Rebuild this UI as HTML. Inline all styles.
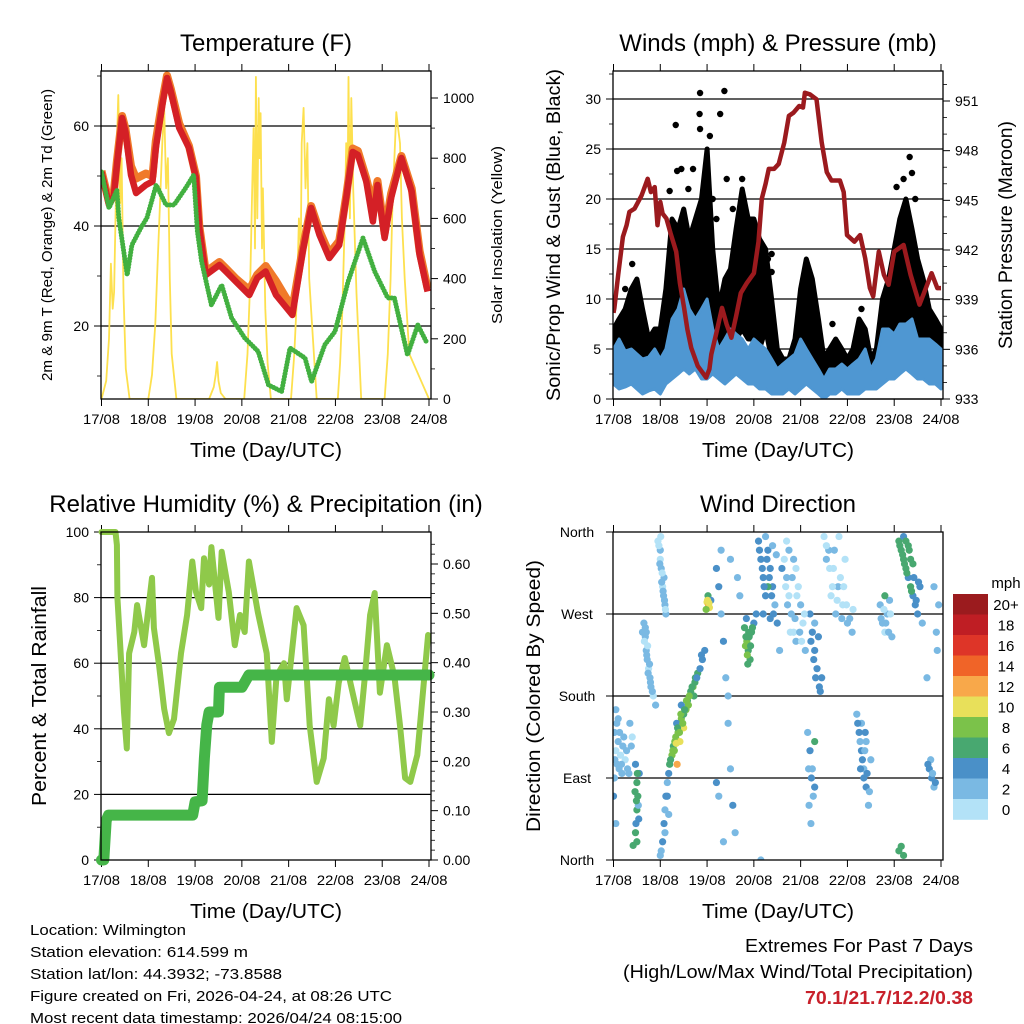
<!DOCTYPE html>
<html><head><meta charset="utf-8"><style>
html,body{margin:0;padding:0;background:#fff}
svg{display:block;font-family:"Liberation Sans",Arial,sans-serif}
</style></head><body>
<svg id="fig" width="1024" height="1024" viewBox="0 0 1024 1024" xmlns="http://www.w3.org/2000/svg">
<rect width="1024" height="1024" fill="#fff"/>
<g id="p1"></g>
<g id="p2"></g>
<g id="p3"></g>
<g id="p4"></g>
<g font-size="15" fill="#000">
<text x="30" y="935" textLength="156" lengthAdjust="spacingAndGlyphs">Location: Wilmington</text>
<text x="30" y="957" textLength="218" lengthAdjust="spacingAndGlyphs">Station elevation: 614.599 m</text>
<text x="30" y="979" textLength="252" lengthAdjust="spacingAndGlyphs">Station lat/lon: 44.3932; -73.8588</text>
<text x="30" y="1001" textLength="362" lengthAdjust="spacingAndGlyphs">Figure created on Fri, 2026-04-24, at 08:26 UTC</text>
<text x="30" y="1023" textLength="372" lengthAdjust="spacingAndGlyphs">Most recent data timestamp: 2026/04/24 08:15:00</text>
</g>
<g font-size="18" text-anchor="end">
<text x="973" y="952" textLength="228" lengthAdjust="spacingAndGlyphs">Extremes For Past 7 Days</text>
<text x="973" y="978" textLength="350" lengthAdjust="spacingAndGlyphs">(High/Low/Max Wind/Total Precipitation)</text>
<text x="973" y="1004" font-weight="bold" fill="#c8202a" textLength="168" lengthAdjust="spacingAndGlyphs">70.1/21.7/12.2/0.38</text>
</g>
</svg>
<script>
// ---------- DATA ----------
const dayLabels = ["17/08","18/08","19/08","20/08","21/08","22/08","23/08","24/08"];
// Temperature panel
const temp2mT = [0,0.16,0.26,0.33,0.44,0.51,0.63,0.74,0.95,1.09,1.16,1.3,1.4,1.48,1.66,1.87,2.02,2.09,2.23,2.52,2.66,2.87,3.16,3.33,3.51,3.73,4.08,4.3,4.48,4.66,4.87,5.08,5.23,5.37,5.48,5.66,5.8,5.9,6.05,6.19,6.41,6.63,6.8,6.97];
const temp2mV = [50.8,44.2,45.9,52.2,61.6,58.9,50.2,46.6,48.2,48.9,55.6,64.2,69.6,67,59.6,55.6,49.6,39.6,30.2,32.2,30.9,28.9,26.2,29.6,30.9,26.2,22.2,34.9,43.6,38.2,33.6,36.2,45.6,54.8,54.2,48.9,40.9,48.2,37.6,45.6,53.6,46.9,34.2,26.9];
const temp9mV = [51,44.8,46.5,53,62,59.5,52,49.5,50.5,50,57,65,70.1,67.5,60.5,56,50,40,30.8,32.8,31.5,29.5,27.2,30.3,32,29,23.5,35.5,44,39,34.5,37,46,55.5,55,49.5,44,49,38.5,46.5,54,47.5,35,27.5];
const dewT = [0,0.16,0.33,0.37,0.55,0.65,0.84,0.97,1.17,1.38,1.55,1.8,1.97,2.05,2.14,2.35,2.57,2.78,3.06,3.35,3.57,3.85,4.03,4.35,4.49,4.77,4.99,5.27,5.59,5.84,6.12,6.26,6.54,6.76,6.94];
const dewV = [50.8,43.6,47.2,41.6,30.2,36.2,39.6,41.6,48.2,44.2,44.2,47.6,50.2,38.9,32.9,24.2,28.2,21.6,17.6,14.9,8.2,6.9,15.6,13.6,8.9,16.2,18.9,28.9,37.6,30.9,25.6,25.6,14.2,20.2,16.9];
const solarT = [0,0.1,0.16,0.2,0.24,0.27,0.3,0.33,0.36,0.4,0.43,0.47,0.52,0.6,1.0,1.08,1.15,1.2,1.25,1.3,1.34,1.38,1.42,1.46,1.5,1.6,2.3,2.4,2.44,2.47,2.5,2.55,2.65,3.05,3.12,3.18,3.22,3.25,3.28,3.3,3.33,3.36,3.38,3.4,3.43,3.45,3.5,3.55,3.62,4.05,4.12,4.18,4.22,4.26,4.28,4.32,4.36,4.4,4.44,4.5,4.6,5.05,5.1,5.15,5.2,5.23,5.26,5.28,5.31,5.34,5.38,5.45,5.55,6.05,6.12,6.18,6.22,6.26,6.3,6.34,6.38,6.42,6.48,6.58,7];
const solarV = [0,60,200,450,300,355,600,850,1010,650,800,350,100,0,0,80,250,450,650,850,967,700,800,400,150,0,0,40,80,123,60,20,0,0,150,400,700,900,500,1070,600,1000,800,950,500,700,300,120,0,0,150,350,600,500,850,967,700,850,400,250,0,0,120,300,600,850,700,1070,600,1000,700,350,0,0,150,400,650,800,953,900,850,600,400,150,0];
// Winds panel
const windT = [0,0.12,0.25,0.38,0.5,0.62,0.75,0.88,1.0,1.12,1.25,1.38,1.5,1.62,1.75,1.88,2.0,2.12,2.25,2.38,2.5,2.62,2.75,2.88,3.0,3.12,3.25,3.38,3.5,3.62,3.75,3.88,4.0,4.12,4.25,4.38,4.5,4.62,4.75,4.88,5.0,5.12,5.25,5.38,5.5,5.62,5.75,5.88,6.0,6.12,6.25,6.38,6.5,6.62,6.75,6.88,7.0];
const gustLow = [2,3,2,3,3,2,2,3,2,3,4,5,6,4,5,6,8,5,4,3,5,6,7,6,6,5,7,4,2,3,2,2,3,4,4,3,2,2,2,3,2,3,3,2,2,3,3,5,5,6,8,7,6,4,3,3,2];
const gustHigh = [7,8,9,11,12,9,6,7,7,11,18,17,19,16,18,20,25,15,9,12,13,17,21,18,18,16,15,10,5,4,4,6,11,14,12,8,4,5,6,5,4,5,8,7,4,5,10,12,15,18,20,17,14,12,9,8,7];
const sonicLow = [1.5,1,1.2,1.5,1,0.5,0.8,1,0.5,1.5,2,2.5,3,2.5,3,2,2,2.5,2,1.5,2,2.5,2,1.5,1.5,1,1,0.5,0.5,0.5,1,0.5,1,1.5,1,0.5,0,0.5,0.5,1,0.5,0.5,0.5,1,1,1,1.5,2,2,2.5,3,2.5,2,2,1.5,1.5,1];
const sonicHigh = [5,6,4.8,5,4.5,4,4.2,5,4,5,8,9,11,9,8,9,10,7,5,6,7,6.5,6,5,6,5.5,5,4,3,3.5,4,4.5,6,5,4,3,2,3,3,3.5,3,3.5,4,5,3,4,7,7,6.5,7.5,7.5,8,6,6,6,5.5,5];
const gustOutT = [0.4,1.2,1.33,1.36,1.84,1.85,1.85,2.06,2.12,2.28,2.37,2.42,2.6,3.38,3.38,4.68,6.05,6.33,6.38,1.6,1.7,2.9,3.1,1.45,1.95,2.2,2.55,2.75,6.2,6.45,0.25,3.3,5.3];
const gustOutV = [13.5,20.8,27.4,22.8,28.5,30.6,27,26.3,20,28.5,30.8,22,15.5,12.7,14.5,7.5,21.2,24.2,22.6,21,23,17,16,23,22,18,19,22,22,20,11,14,9];
const presT = [0,0.02,0.1,0.2,0.28,0.34,0.45,0.6,0.73,0.8,0.88,0.94,1.0,1.05,1.13,1.22,1.34,1.42,1.51,1.58,1.66,1.8,1.98,2.05,2.09,2.2,2.32,2.42,2.52,2.62,2.72,2.85,3.0,3.1,3.17,3.25,3.32,3.43,3.53,3.65,3.75,3.85,3.97,4.05,4.09,4.2,4.34,4.45,4.56,4.66,4.84,4.92,4.99,5.15,5.27,5.38,5.48,5.55,5.67,5.78,5.88,6.0,6.2,6.35,6.54,6.65,6.8,6.92,7.0];
const presV = [938.2,938.5,940.5,942.8,943.5,944.3,944.5,945.3,946.3,945.5,945.8,943.5,944.9,944.2,943.9,943,941.9,940,938.5,937.2,936.1,935,934.3,934.8,935.7,937,938.5,937.5,936.7,938,939.4,940,940.6,942.5,945.1,946,946.9,946.9,947.2,948.5,950.1,950.3,950.7,950.6,951.5,951.4,951.1,948.5,946.7,946.2,946.2,945.5,942.9,942.5,942.9,941.5,939.7,939.2,941.9,940.5,939.9,941.9,942.3,940.5,938.7,939.5,940.6,939.7,939.7];
// RH panel
const rhT = [0,0.3,0.33,0.34,0.4,0.48,0.54,0.59,0.7,0.76,0.91,0.98,1.08,1.12,1.23,1.34,1.44,1.55,1.7,1.83,1.94,2.02,2.13,2.19,2.3,2.35,2.5,2.57,2.72,2.85,2.96,3.06,3.15,3.34,3.53,3.64,3.74,3.9,3.96,4.17,4.32,4.45,4.6,4.75,4.86,4.96,5.07,5.2,5.4,5.53,5.63,5.74,5.84,5.95,6.1,6.26,6.38,6.49,6.6,6.75,6.98];
const rhV = [100,100,96,80,65.5,45,34,63,69.5,77.7,65.5,73.8,86,70.7,59.5,46,38.7,43,63,74.7,91,81.7,76.8,92,84,95.4,73.8,94,81.7,65.5,74.7,69.5,91,75.6,63,36,56,60,49,76.8,71.6,41,23.8,31,49,41,54,61.6,49,41,56,74.7,81.4,51,65.5,56,41,25,23.8,32,68.6];
const rainT = [0,0.05,0.1,0.15,1.95,2.0,2.15,2.2,2.25,2.3,2.5,2.52,3.0,3.15,7.0];
const rainV = [0,0,0.08,0.091,0.091,0.118,0.12,0.207,0.274,0.30,0.30,0.35,0.35,0.375,0.375];
// Wind direction panel
const dirT = [0.02,0.05,0.08,0.1,0.12,0.15,0.18,0.2,0.25,0.3,0.35,0.4,0.05,0.1,0.02,
0.47,0.5,0.52,0.5,0.48,0.55,0.53,0.5,0.42,
0.65,0.68,0.7,0.72,0.75,0.78,0.8,0.68,0.73,0.77,0.85,0.9,
0.95,1.0,1.02,1.05,1.07,1.1,1.0,1.08,1.12,1.03,
1.0,1.05,1.08,1.1,1.12,1.15,1.18,1.02,1.1,
1.2,1.25,1.28,1.3,1.33,1.36,1.38,1.4,1.42,1.45,1.5,1.5,1.55,1.58,1.6,1.65,1.7,1.72,1.75,1.8,1.85,1.9,1.95,1.35,1.45,
2.0,2.03,2.05,2.02,2.08,1.98,
2.2,2.25,2.3,2.35,2.4,2.45,2.5,2.55,2.6,2.3,2.5,2.65,2.7,2.45,2.2,2.25,2.35,
2.8,2.85,2.88,2.9,2.92,2.95,3.0,2.87,2.82,3.05,
3.1,3.15,3.2,3.25,3.3,3.35,3.4,3.45,3.5,3.55,3.2,3.3,3.4,3.6,3.15,
3.65,3.7,3.75,3.8,3.85,3.9,3.95,4.0,4.05,4.1,3.75,3.9,
4.2,4.25,4.3,4.35,4.4,4.3,4.45,4.15,4.2,4.25,4.3,4.18,4.22,4.3,
4.5,4.6,4.7,4.8,4.9,5.0,4.65,4.75,4.85,5.1,4.55,4.95,
5.2,5.25,5.3,5.35,5.4,5.45,5.3,5.4,5.5,5.35,
5.7,5.75,5.8,5.85,5.9,5.95,5.8,
6.1,6.15,6.2,6.25,6.3,6.35,6.4,6.45,6.5,6.2,6.3,6.4,6.55,6.6,6.1,6.15,6.2,
6.75,6.8,6.85,6.78,6.9,6.95,6.85,6.7];
const dirDeg = [140,120,105,130,100,115,95,125,110,100,150,135,165,155,90,
105,85,70,55,40,95,60,20,16,
260,245,230,220,210,200,190,255,235,215,180,170,
350,340,320,300,290,280,330,310,270,305,
5,20,40,55,70,85,95,10,30,
105,115,125,120,135,105,140,150,130,155,160,145,165,175,170,185,190,180,200,205,210,220,230,150,170,
283,280,277,290,285,275,
320,300,270,240,200,150,100,60,30,340,330,310,290,180,85,70,20,
255,240,230,245,220,250,260,215,235,270,
350,330,310,290,340,320,300,280,260,230,270,300,345,320,0,
330,310,290,270,250,240,300,280,260,230,340,320,
270,250,230,210,190,260,200,140,120,100,80,60,40,130,
355,340,320,300,280,260,290,270,310,250,330,330,
160,140,120,100,80,60,150,130,110,90,
280,260,250,270,285,245,290,
350,340,330,320,310,300,290,280,270,355,345,325,300,260,10,15,5,
100,90,80,110,250,280,300,200];
const dirSpd = [2,1,2,2,3,1,2,2,1,3,2,1,3,2,3,
5,7,6,7,5,4,3,7,6,
2,2,2,2,1,2,2,2,1,2,1,2,
1,2,2,1,2,2,1,2,2,2,
3,4,4,3,4,3,4,2,3,
6,8,7,9,8,12,9,7,10,8,7,10,8,7,9,7,8,6,7,6,5,4,5,5,4,
11,12,10,6,5,9,
5,4,3,4,3,2,3,4,3,2,2,3,2,3,4,3,2,
7,8,7,6,7,6,5,6,8,4,
4,5,4,5,4,5,4,3,4,3,4,6,3,4,3,
1,2,1,2,1,2,1,2,1,2,2,1,
4,5,4,4,5,3,4,3,4,3,4,3,2,6,
1,2,1,2,1,2,1,2,1,2,2,1,
3,4,4,3,4,3,2,3,2,5,
2,2,1,2,2,3,6,
7,6,7,6,5,6,4,5,4,5,6,7,4,3,6,6,7,
4,4,3,2,2,3,2,2];
const dirExtraT = [0.03,0.07,0.13,0.17,0.22,0.28,0.33,0.38,0.0,0.05,
0.46,0.51,0.49,0.54,0.47,
0.62,0.66,0.71,0.74,0.79,0.83,0.7,
0.97,0.99,1.04,1.06,1.09,1.11,1.01,
1.22,1.27,1.31,1.34,1.37,1.41,1.44,1.48,1.52,1.56,1.62,1.68,1.74,1.78,1.88,1.15,1.18,
2.01,2.04,
2.83,2.86,2.89,2.93,2.97,2.84,
3.12,3.18,3.22,3.28,3.33,3.38,3.42,3.48,3.25,3.35,
3.68,3.72,3.78,3.82,3.88,3.92,3.98,4.02,4.08,3.7,3.85,
4.22,4.28,4.32,4.38,4.42,4.17,4.23,4.27,
4.55,4.62,4.68,4.72,4.78,4.82,4.88,4.92,4.98,5.05,5.12,
5.22,5.27,5.32,5.37,5.42,5.47,5.28,5.38,
5.72,5.78,5.82,5.88,5.92,
6.12,6.18,6.22,6.27,6.32,6.37,6.42,6.47,6.52,6.25,6.35,
6.72,6.82,6.88,6.92];
const dirExtraDeg = [110,150,140,105,135,120,95,125,70,40,
75,95,65,45,30,
250,240,225,205,195,185,250,
345,325,315,295,285,275,355,
110,120,130,128,145,140,160,150,165,175,180,190,195,200,225,70,50,
285,282,
245,225,250,235,255,265,
340,320,300,330,310,290,270,335,355,265,
300,280,250,310,265,290,250,240,270,350,330,
240,220,200,245,185,100,90,70,
345,320,300,340,285,355,265,300,280,265,275,
150,130,110,120,95,75,100,140,
265,275,260,250,270,
345,335,325,315,340,295,310,285,305,350,330,
105,95,85,230];
const dirExtraSpd = [3,2,2,3,2,2,2,3,4,2,
6,6,7,4,6,
2,1,2,2,2,2,2,
1,2,1,2,2,1,1,
7,9,8,10,7,8,9,8,7,9,8,7,6,5,4,4,3,
10,11,
7,8,7,6,7,5,
4,4,5,4,4,5,4,3,3,4,
1,2,1,2,2,1,2,1,1,1,2,
4,4,5,4,4,3,4,3,
1,1,1,2,1,1,2,1,1,2,1,
4,3,4,3,4,3,5,4,
2,1,2,2,1,
7,6,7,6,7,6,5,4,4,6,6,
4,3,4,2];
const speedColors = ["#b3e2f7","#7ab9e3","#4a90c8","#48a870","#7bc24a","#e8e05a","#f8a84a","#f06428","#de3528","#bf1e24","#9b1b1e"];
const speedLabels = ["0","2","4","6","8","10","12","14","16","18","20+"];

// ---------- HELPERS ----------
const NS="http://www.w3.org/2000/svg";
function mk(parent,tag,attrs,text){const e=document.createElementNS(NS,tag);for(const k in attrs)e.setAttribute(k,attrs[k]);if(text!==undefined)e.textContent=text;parent.appendChild(e);return e;}
function lin(d0,d1,r0,r1){return v=>r0+(v-d0)*(r1-r0)/(d1-d0);}
function pts(T,V,sx,sy){return T.map((t,i)=>sx(t).toFixed(1)+","+sy(V[i]).toFixed(1)).join(" ");}

function frame(g,L,R,T,B,titleText,titleX){
  const xs=lin(0,7,L+0.5,R-2);
  for(let i=0;i<=7;i++){
    const x=xs(i);
    const tk=mk(g,"line",{x1:x,x2:x,y1:B,y2:B+7,stroke:"#000","stroke-width":1});
    
    
    const tt=mk(g,"line",{x1:x,x2:x,y1:T,y2:T-7,stroke:"#000","stroke-width":1});
    
    
    const lb=mk(g,"text",{x:x,y:B+25,"font-size":14,"text-anchor":"middle",textLength:37,lengthAdjust:"spacingAndGlyphs"},dayLabels[i]);
    
    
  }
  const xt=mk(g,"text",{x:(L+R)/2,y:B+58,"font-size":20,"text-anchor":"middle",textLength:152,lengthAdjust:"spacingAndGlyphs"},"Time (Day/UTC)");
  
  
  const tt=mk(g,"text",{x:titleX,y:T-20,"font-size":24,"text-anchor":"middle"},titleText);
  
  
  return xs;
}
function box(g,L,R,T,B){
  const b=mk(g,"rect",{x:L,y:T,width:R-L,height:B-T,fill:"none",stroke:"#000","stroke-width":1.3});
  
  
}
function yTicks(g,vals,sy,x,side,labels,grid,L,R,fs){
  vals.forEach((v,i)=>{
    const y=sy(v);
    const tk=mk(g,"line",{x1:x,x2:x+(side<0?-7:7),y1:y,y2:y,stroke:"#000","stroke-width":1});
    
    
    if(grid){
      const gl=mk(g,"line",{x1:L,x2:R,y1:y,y2:y,stroke:"#000","stroke-width":1.2});
      
      
    }
    const t=mk(g,"text",{x:x+(side<0?-12:12),y:y+5,"font-size":fs||14,"text-anchor":side<0?"end":"start"},labels[i]);
    
    
  });
}
function minorTicks(g,vals,sy,x,side){
  vals.forEach(v=>{const y=sy(v);
    const m=mk(g,"line",{x1:x,x2:x+(side<0?-4:4),y1:y,y2:y,stroke:"#000","stroke-width":0.8});
    
    
  });
}
function vlabel(g,x,y,text,fs,len,name){
  const t=mk(g,"text",{x:0,y:0,"font-size":fs,"text-anchor":"middle",transform:`translate(${x},${y}) rotate(-90)`,textLength:len,lengthAdjust:"spacingAndGlyphs"},text);
  
  
}

// ---------- PANEL 1: TEMPERATURE ----------
(function(){
  const g=document.getElementById("p1");
  const L=101,R=431,T=71,B=399;
  const xs=frame(g,L,R,T,B,"Temperature (F)",266);
  const sy=lin(20,60,326,126);
  const sr=lin(0,1000,399,98);
  yTicks(g,[20,40,60],sy,L,-1,["20","40","60"],true,L,R);
  minorTicks(g,[10,30,50,70],sy,L,-1);
  yTicks(g,[0,200,400,600,800,1000],sr,R,1,["0","200","400","600","800","1000"],false);
  minorTicks(g,[100,300,500,700,900],sr,R,1);
  const cp=mk(g,"clipPath",{id:"c1"});mk(cp,"rect",{x:L,y:T,width:R-L,height:B-T});
  const s=mk(g,"polyline",{points:pts(solarT,solarV,xs,sr),fill:"none",stroke:"#fde04e","stroke-width":1.8,"stroke-linejoin":"round","clip-path":"url(#c1)"});
  
  
  const o=mk(g,"polyline",{points:pts(temp2mT,temp9mV,xs,sy),fill:"none",stroke:"#f07a2a","stroke-width":8,"stroke-linejoin":"round","clip-path":"url(#c1)"});
  
  
  const r=mk(g,"polyline",{points:pts(temp2mT,temp2mV,xs,sy),fill:"none",stroke:"#d42026","stroke-width":6.5,"stroke-linejoin":"round","clip-path":"url(#c1)"});
  
  
  const d=mk(g,"polyline",{points:pts(dewT,dewV,xs,sy),fill:"none",stroke:"#42b040","stroke-width":5,"stroke-linecap":"round","stroke-dasharray":"0 3","clip-path":"url(#c1)"});
  
  
  box(g,L,R,T,B);
  vlabel(g,52,235,"2m & 9m T (Red, Orange) & 2m Td (Green)",15,292,"y-axis-title-left");
  vlabel(g,502,235,"Solar Insolation (Yellow)",15,178,"y-axis-title-right");
})();

// ---------- PANEL 2: WINDS ----------
(function(){
  const g=document.getElementById("p2");
  const L=613,R=943,T=71,B=399;
  const xs=frame(g,L,R,T,B,"Winds (mph) & Pressure (mb)",778);
  const sy=lin(0,30,399,99);
  const sp=lin(933,951,399,101);
  yTicks(g,[0,5,10,15,20,25,30],sy,L,-1,["0","5","10","15","20","25","30"],true,L,R);
  minorTicks(g,[2.5,7.5,12.5,17.5,22.5,27.5,32.5],sy,L,-1);
  yTicks(g,[933,936,939,942,945,948,951],sp,R,1,["933","936","939","942","945","948","951"],false);
  minorTicks(g,[934,935,937,938,940,941,943,944,946,947,949,950,952],sp,R,1);
  const cp=mk(g,"clipPath",{id:"c2"});mk(cp,"rect",{x:L,y:T,width:R-L,height:B-T});
  const up=windT.map((t,i)=>xs(t).toFixed(1)+","+sy(gustHigh[i]).toFixed(1));
  const dn=windT.map((t,i)=>xs(t).toFixed(1)+","+sy(gustLow[i]).toFixed(1)).reverse();
  const gp=mk(g,"polygon",{points:up.concat(dn).join(" "),fill:"#000",stroke:"#000","stroke-width":5,"stroke-linejoin":"round","clip-path":"url(#c2)"});
  
  
  gustOutT.forEach((t,i)=>{
    const c=mk(g,"circle",{cx:xs(t),cy:sy(gustOutV[i]),r:3.2,fill:"#000"});
    
    
  });
  const up2=windT.map((t,i)=>xs(t).toFixed(1)+","+sy(sonicHigh[i]).toFixed(1));
  const dn2=windT.map((t,i)=>xs(t).toFixed(1)+","+sy(sonicLow[i]).toFixed(1)).reverse();
  const bp=mk(g,"polygon",{points:up2.concat(dn2).join(" "),fill:"#4f97d2",stroke:"#4f97d2","stroke-width":3,"stroke-linejoin":"round","clip-path":"url(#c2)"});
  
  
  const p=mk(g,"polyline",{points:pts(presT,presV,xs,sp),fill:"none",stroke:"#9b1a1e","stroke-width":4.5,"stroke-linejoin":"round","clip-path":"url(#c2)"});
  
  
  box(g,L,R,T,B);
  vlabel(g,560,235,"Sonic/Prop Wind & Gust (Blue, Black)",19,332,"y-axis-title-left");
  vlabel(g,1012,235,"Station Pressure (Maroon)",19,228,"y-axis-title-right");
})();

// ---------- PANEL 3: RH & PRECIP ----------
(function(){
  const g=document.getElementById("p3");
  const L=101,R=431,T=532,B=860;
  const xs=frame(g,L,R,T,B,"Relative Humidity (%) & Precipitation (in)",266);
  const sy=lin(0,100,860,532);
  const sr=lin(0,0.6,860,564);
  yTicks(g,[20,40,60,80],sy,L,-1,["20","40","60","80"],true,L,R);
  yTicks(g,[0,100],sy,L,-1,["0","100"],false);
  minorTicks(g,[10,30,50,70,90],sy,L,-1);
  yTicks(g,[0,0.1,0.2,0.3,0.4,0.5,0.6],sr,R,1,["0.00","0.10","0.20","0.30","0.40","0.50","0.60"],false);
  minorTicks(g,[0.02,0.04,0.06,0.08,0.12,0.14,0.16,0.18,0.22,0.24,0.26,0.28,0.32,0.34,0.36,0.38,0.42,0.44,0.46,0.48,0.52,0.54,0.56,0.58,0.62,0.64],sr,R,1);
  const rh=mk(g,"polyline",{points:pts(rhT,rhV,xs,sy),fill:"none",stroke:"#8fc94a","stroke-width":6,"stroke-linejoin":"round","stroke-linecap":"round"});
  
  
  const rn=mk(g,"polyline",{points:pts(rainT,rainV,xs,sr),fill:"none",stroke:"#45b548","stroke-width":11,"stroke-linejoin":"round","stroke-linecap":"round"});
  
  
  box(g,L,R,T,B);
  vlabel(g,46,696,"Percent & Total Rainfall",20,220,"y-axis-title-left");
})();

// ---------- PANEL 4: WIND DIRECTION ----------
(function(){
  const g=document.getElementById("p4");
  const L=613,R=943,T=532,B=860;
  const xs=frame(g,L,R,T,B,"Wind Direction",778);
  const sy=lin(0,360,860,532);
  const cp=mk(g,"clipPath",{id:"c4"});mk(cp,"rect",{x:L,y:T,width:R-L,height:B-T});
  [90,180,270].forEach(v=>{const l=mk(g,"line",{x1:L,x2:R,y1:sy(v),y2:sy(v),stroke:"#000","stroke-width":1.2});
    
    });
  function drawPts(T_,D_,S_){
    T_.forEach((t,i)=>{
      const idx=Math.min(10,Math.floor(S_[i]/2));
      const c=mk(g,"circle",{cx:xs(t),cy:sy(D_[i]),r:3.6,fill:speedColors[idx],"clip-path":"url(#c4)"});
      
      
    });
  }
  drawPts(dirT,dirDeg,dirSpd);
  drawPts(dirExtraT,dirExtraDeg,dirExtraSpd);
  const dl=["North","East","South","West","North"];
  [0,90,180,270,360].forEach((v,i)=>{
    const y=sy(v);
    const tk=mk(g,"line",{x1:L,x2:L-7,y1:y,y2:y,stroke:"#000"});
    
    
    const t=mk(g,"text",{x:577,y:y+5,"font-size":14,"text-anchor":"middle"},dl[i]);
    
    
  });
  box(g,L,R,T,B);
  vlabel(g,540,696,"Direction (Colored By Speed)",19,272,"y-axis-title-left");
  const cb=mk(g,"g",{});
  
  
  const top=594,h=20.5;
  for(let i=0;i<11;i++){
    const k=10-i;
    const r=mk(cb,"rect",{x:953,y:top+i*h,width:35,height:h+0.3,fill:speedColors[k]});
    
    
    const t=mk(cb,"text",{x:1006,y:top+i*h+16,"font-size":15,"text-anchor":"middle"},speedLabels[k]);
    
    
  }
  const u=mk(cb,"text",{x:1006,y:588,"font-size":15,"text-anchor":"middle"},"mph");
  
  
})();
</script>
</body></html>
